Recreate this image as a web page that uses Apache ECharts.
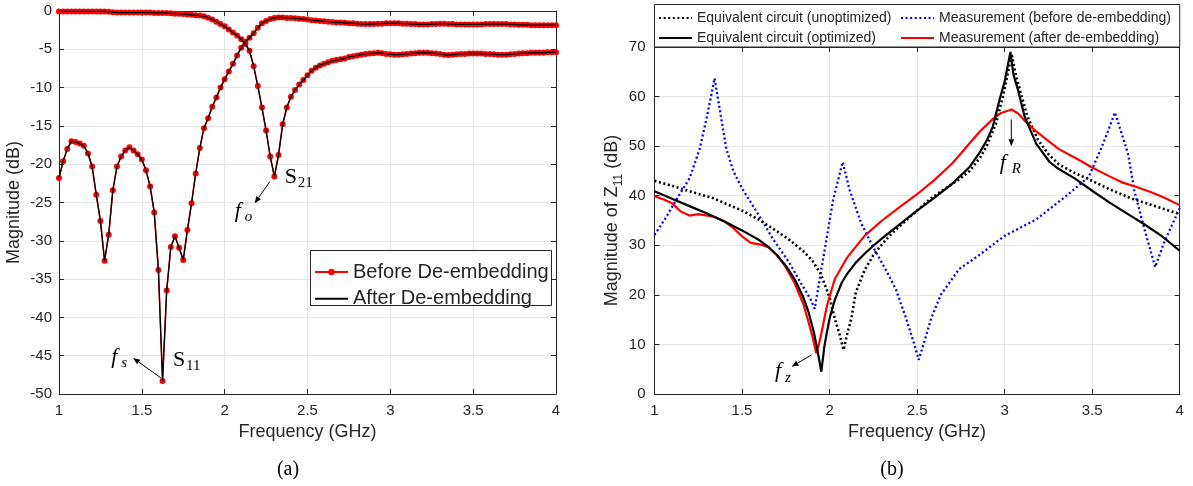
<!DOCTYPE html>
<html><head><meta charset="utf-8">
<script src="https://cdn.jsdelivr.net/npm/echarts@6/dist/echarts.min.js"></script>
<style>html,body{margin:0;padding:0;background:#fff}#c{width:1193px;height:486px}</style>
</head><body><div id="c"></div>
<script>
// ---------- (a) S-parameters: frequency grid 1.000 .. 4.000 GHz, step 0.025 GHz ----------
const freqStartA = 1.0, freqStepA = 0.025;
const s11 = [
  -21.8, -19.6, -18.0, -17.0, -17.1, -17.3, -17.6, -18.6, -20.3, -24.0,
  -27.4, -32.6, -29.2, -23.4, -20.3, -19.0, -18.2, -17.8, -18.2, -18.7,
  -19.4, -20.8, -22.9, -26.3, -33.8, -48.3, -36.5, -30.8, -29.4, -30.9,
  -32.5, -28.6, -25.1, -21.2, -17.9, -15.3, -14.0, -12.5, -11.3, -10.0,
  -8.9, -7.9, -6.9, -5.8, -4.8, -4.0, -3.5, -2.9, -2.2, -1.6,
  -1.3, -1.05, -0.9, -0.85, -0.85, -0.9, -0.9, -0.95, -1.0, -1.05,
  -1.1, -1.2, -1.25, -1.3, -1.35, -1.4, -1.45, -1.5, -1.5, -1.55,
  -1.6, -1.6, -1.65, -1.7, -1.7, -1.7, -1.7, -1.65, -1.65, -1.6,
  -1.6, -1.6, -1.6, -1.65, -1.65, -1.7, -1.7, -1.75, -1.75, -1.75,
  -1.7, -1.7, -1.65, -1.65, -1.7, -1.7, -1.75, -1.75, -1.75, -1.75,
  -1.75, -1.75, -1.75, -1.7, -1.7, -1.7, -1.7, -1.7, -1.7, -1.75,
  -1.75, -1.8, -1.8, -1.8, -1.85, -1.85, -1.85, -1.85, -1.85, -1.85,
  -1.85
];
const s21 = [
  -0.05, -0.05, -0.05, -0.05, -0.05, -0.05, -0.05, -0.05, -0.05, -0.05,
  -0.05, -0.05, -0.1, -0.15, -0.2, -0.2, -0.2, -0.2, -0.2, -0.2,
  -0.2, -0.2, -0.2, -0.25, -0.25, -0.25, -0.25, -0.3, -0.35, -0.35,
  -0.4, -0.45, -0.5, -0.55, -0.6, -0.7, -0.87, -1.1, -1.4, -1.7,
  -2.0, -2.4, -2.8, -3.2, -3.7, -4.3, -5.2, -7.2, -9.8, -12.6,
  -15.6, -19.0, -21.6, -18.8, -14.8, -12.6, -11.2, -10.3, -9.6, -9.0,
  -8.4, -7.8, -7.4, -7.1, -6.9, -6.7, -6.5, -6.4, -6.3, -6.2,
  -6.0, -5.9, -5.8, -5.7, -5.6, -5.55, -5.5, -5.45, -5.5, -5.6,
  -5.65, -5.7, -5.7, -5.65, -5.6, -5.55, -5.5, -5.45, -5.45, -5.45,
  -5.5, -5.55, -5.6, -5.7, -5.75, -5.7, -5.65, -5.6, -5.6, -5.55,
  -5.55, -5.55, -5.55, -5.6, -5.6, -5.65, -5.7, -5.7, -5.7, -5.65,
  -5.6, -5.55, -5.5, -5.5, -5.45, -5.45, -5.45, -5.45, -5.4, -5.4,
  -5.4
];

// ---------- (b) Magnitude of Z11 (dB) ----------
const ecUnoptF = [1.00,1.10,1.20,1.336,1.40,1.50,1.60,1.70,1.77,1.85,1.90,1.95,2.00,2.03,2.055,2.08,2.10,2.124,2.15,2.20,2.25,2.29,2.35,2.42,2.50,2.57,2.65,2.74,2.80,2.86,2.90,2.95,2.99,3.02,3.04,3.06,3.09,3.13,3.19,3.25,3.31,3.40,3.50,3.60,3.72,3.85,4.00];
const ecUnoptV = [43.0,42.0,40.9,39.5,38.5,37.0,35.1,32.8,31.1,28.8,27.0,24.2,19.5,15.2,12.3,8.9,12.0,15.2,20.5,25.0,28.0,29.8,32.2,34.5,37.0,39.2,41.2,43.3,45.0,47.7,50.2,54.5,60.0,65.0,68.6,65.0,61.0,56.0,51.3,48.4,46.3,44.6,43.0,41.3,39.5,38.0,36.3];

const measBeforeF = [1.00,1.06,1.13,1.20,1.257,1.30,1.343,1.37,1.41,1.45,1.50,1.60,1.68,1.77,1.834,1.89,1.915,1.963,2.02,2.075,2.115,2.18,2.245,2.33,2.38,2.438,2.48,2.509,2.545,2.58,2.635,2.74,2.85,3.00,3.18,3.35,3.48,3.545,3.584,3.63,3.67,3.706,3.74,3.80,3.86,3.91,4.00];
const measBeforeV = [32.1,35.3,39.5,43.5,49.3,56.0,63.7,58.0,49.5,45.0,41.5,35.8,31.1,26.5,22.5,19.2,17.2,27.2,39.1,46.8,41.1,34.5,29.9,24.5,21.0,15.2,10.5,6.9,11.0,15.2,20.0,25.2,27.9,31.9,35.2,39.9,43.8,49.0,52.4,56.8,52.4,48.3,41.1,33.1,25.6,30.5,37.5];

const ecOptF = [1.00,1.10,1.20,1.30,1.40,1.50,1.60,1.65,1.70,1.75,1.80,1.85,1.88,1.91,1.93,1.953,1.97,1.985,2.00,2.03,2.07,2.10,2.15,2.20,2.25,2.30,2.40,2.50,2.60,2.70,2.80,2.857,2.90,2.933,2.971,3.00,3.033,3.05,3.076,3.114,3.18,3.257,3.30,3.40,3.50,3.60,3.70,3.80,3.90,4.00];
const ecOptV = [40.9,39.4,37.9,36.4,34.8,33.0,31.0,29.7,28.0,25.9,23.2,19.5,16.5,12.5,9.0,4.5,9.5,12.5,15.2,19.0,22.5,24.2,26.5,28.3,29.9,31.4,34.2,37.0,39.6,42.4,45.8,48.7,51.3,54.0,59.4,63.0,69.0,64.5,61.4,56.0,50.5,46.8,45.6,43.5,41.0,38.6,36.4,34.2,31.8,28.9];

const measAfterF = [1.00,1.05,1.10,1.15,1.20,1.25,1.30,1.35,1.40,1.45,1.50,1.55,1.60,1.65,1.70,1.75,1.80,1.85,1.88,1.90,1.924,1.94,1.953,1.985,2.03,2.10,2.20,2.30,2.40,2.50,2.60,2.70,2.75,2.80,2.86,2.93,2.98,3.04,3.08,3.12,3.18,3.24,3.31,3.42,3.50,3.60,3.67,3.75,3.83,3.90,4.00];
const measAfterV = [39.9,39.3,38.5,36.8,36.0,36.3,36.0,35.6,34.8,33.5,31.8,30.5,30.2,29.6,28.0,25.6,22.4,18.2,14.5,11.9,8.2,10.2,12.2,17.8,23.2,27.5,31.9,35.0,37.7,40.3,43.2,46.5,48.5,50.6,53.0,55.4,56.7,57.4,56.5,54.9,53.0,51.3,49.4,47.3,45.7,43.9,42.7,41.8,40.8,39.8,38.1];

// ---------- helpers ----------
const freqA = s11.map((_, i) => +(freqStartA + i * freqStepA).toFixed(3));
const pairs = (xs, ys) => xs.map((x, i) => [x, ys[i]]);

const AX = '#262626', GRIDC = '#e4e4e4';
const SANS = '"Liberation Sans", Arial, Helvetica, sans-serif';
const SERIF = '"Liberation Serif", "Times New Roman", serif';

function xAxes(g) {
  return [
    { gridIndex: g, type: 'value', min: 1, max: 4, interval: 0.5,
      name: 'Frequency (GHz)', nameLocation: 'middle', nameGap: 29,
      nameTextStyle: { fontSize: 18, color: AX, fontFamily: SANS },
      axisLine: { show: true, onZero: false, lineStyle: { color: AX, width: 1 } },
      axisTick: { show: true, inside: true, length: 5, lineStyle: { color: AX } },
      axisLabel: { fontSize: 15, color: AX, margin: 9, fontFamily: SANS },
      splitLine: { show: true, lineStyle: { color: GRIDC, width: 1 } } },
    { gridIndex: g, type: 'value', position: 'top', min: 1, max: 4, interval: 0.5,
      axisLine: { show: true, onZero: false, lineStyle: { color: AX, width: 1 } },
      axisTick: { show: true, inside: true, length: 5, lineStyle: { color: AX } },
      axisLabel: { show: false }, splitLine: { show: false } }
  ];
}
function yAxes(g, min, max, interval, name, nameGap, margin) {
  return [
    { gridIndex: g, type: 'value', min, max, interval, name,
      nameLocation: 'middle', nameGap,
      nameTextStyle: { fontSize: 18, color: AX, fontFamily: SANS, lineHeight: 24,
        rich: { s: { fontSize: 12, color: AX, fontFamily: SANS, verticalAlign: 'bottom', lineHeight: 24 } } },
      axisLine: { show: true, onZero: false, lineStyle: { color: AX, width: 1 } },
      axisTick: { show: true, inside: true, length: 5, lineStyle: { color: AX } },
      axisLabel: { fontSize: 15, color: AX, margin, fontFamily: SANS },
      splitLine: { show: true, lineStyle: { color: GRIDC, width: 1 } } },
    { gridIndex: g, type: 'value', position: 'right', min, max, interval,
      axisLine: { show: true, onZero: false, lineStyle: { color: AX, width: 1 } },
      axisTick: { show: true, inside: true, length: 5, lineStyle: { color: AX } },
      axisLabel: { show: false }, splitLine: { show: false } }
  ];
}

const dotted = [2, 2.6];
const legendBase = { orient: 'horizontal', padding: 0, itemWidth: 33, itemHeight: 8, selectedMode: false, z: 10 };
const noMarker = { itemStyle: { opacity: 0, borderWidth: 0 } };

const option = {
  animation: false,
  backgroundColor: '#fff',
  grid: [
    { left: 59, right: 637, top: 11, bottom: 92 },
    { left: 654.5, right: 13.3, top: 47, bottom: 92 }
  ],
  xAxis: [...xAxes(0), ...xAxes(1)],
  yAxis: [
    ...yAxes(0, -50, 0, 5, 'Magnitude (dB)', 30, 7),
    ...yAxes(1, 0, 70, 10, 'Magnitude of Z{s|11} (dB)', 30, 9)
  ],
  legend: [
    { ...legendBase, left: 314, top: 262, data: ['Before De-embedding'],
      textStyle: { fontSize: 20, color: AX, fontFamily: SANS } },
    { ...legendBase, ...noMarker, left: 314, top: 288.7, data: ['After De-embedding'],
      textStyle: { fontSize: 20, color: AX, fontFamily: SANS } },
    { ...legendBase, ...noMarker, left: 658, top: 11, data: ['Equivalent circuit (unoptimized)'],
      textStyle: { fontSize: 14, color: AX, fontFamily: SANS } },
    { ...legendBase, ...noMarker, left: 900, top: 11, data: ['Measurement (before de-embedding)'],
      textStyle: { fontSize: 14, color: AX, fontFamily: SANS } },
    { ...legendBase, ...noMarker, left: 658, top: 31, data: ['Equivalent circuit (optimized)'],
      textStyle: { fontSize: 14, color: AX, fontFamily: SANS } },
    { ...legendBase, ...noMarker, left: 900, top: 31, data: ['Measurement (after de-embedding)'],
      textStyle: { fontSize: 14, color: AX, fontFamily: SANS } }
  ],
  series: [
    // (a) before de-embedding: red line with dots
    { type: 'line', name: 'Before De-embedding', xAxisIndex: 0, yAxisIndex: 0,
      data: pairs(freqA, s21), symbol: 'circle', symbolSize: 6, showSymbol: true,
      lineStyle: { color: '#ff0000', width: 1.5 }, itemStyle: { color: '#ff0000' }, z: 2 },
    { type: 'line', name: 'Before De-embedding', xAxisIndex: 0, yAxisIndex: 0,
      data: pairs(freqA, s11), symbol: 'circle', symbolSize: 6, showSymbol: true,
      lineStyle: { color: '#ff0000', width: 1.5 }, itemStyle: { color: '#ff0000' }, z: 2 },
    // (a) after de-embedding: black line
    { type: 'line', name: 'After De-embedding', xAxisIndex: 0, yAxisIndex: 0,
      data: pairs(freqA, s21), symbol: 'none',
      lineStyle: { color: '#000', width: 1.3 }, itemStyle: { color: '#000' }, z: 3 },
    { type: 'line', name: 'After De-embedding', xAxisIndex: 0, yAxisIndex: 0,
      data: pairs(freqA, s11), symbol: 'none',
      lineStyle: { color: '#000', width: 1.3 }, itemStyle: { color: '#000' }, z: 3 },
    // (b)
    { type: 'line', name: 'Measurement (before de-embedding)', xAxisIndex: 2, yAxisIndex: 2,
      data: pairs(measBeforeF, measBeforeV), symbol: 'none',
      lineStyle: { color: '#0000ff', width: 2.3, type: dotted }, itemStyle: { color: '#0000ff' } },
    { type: 'line', name: 'Equivalent circuit (unoptimized)', xAxisIndex: 2, yAxisIndex: 2,
      data: pairs(ecUnoptF, ecUnoptV), symbol: 'none',
      lineStyle: { color: '#000', width: 2.6, type: dotted }, itemStyle: { color: '#000' } },
    { type: 'line', name: 'Measurement (after de-embedding)', xAxisIndex: 2, yAxisIndex: 2,
      data: pairs(measAfterF, measAfterV), symbol: 'none',
      lineStyle: { color: '#ff0000', width: 2.2 }, itemStyle: { color: '#ff0000' } },
    { type: 'line', name: 'Equivalent circuit (optimized)', xAxisIndex: 2, yAxisIndex: 2,
      data: pairs(ecOptF, ecOptV), symbol: 'none',
      lineStyle: { color: '#000', width: 2.2 }, itemStyle: { color: '#000' } }
  ]
};

const chart = echarts.init(document.getElementById('c'), null, { renderer: 'canvas' });
chart.setOption(option);

// ---------- annotations (anchored in data coordinates) ----------
// [gridIndex, [freq, value], main text, subscript, italic]
const labelAnchors = [
  [0, [1.688, -45.6], 'S', '11', false],
  [0, [1.316, -45.2], 'f', 's', true],
  [0, [2.363, -21.7], 'S', '21', false],
  [0, [2.061, -26.1], 'f', 'o', true],
  [1, [1.688, 4.5], 'f', 'z', true],
  [1, [2.972, 46.6], 'f', 'R', true]
];
// [gridIndex, tail, head]
const arrowAnchors = [
  [0, [1.615, -47.9], [1.447, -45.3]],
  [0, [2.272, -22.3], [2.181, -25.1]],
  [1, [1.897, 7.9], [1.783, 5.5]],
  [1, [3.038, 55.4], [3.038, 50.0]]
];

const toPx = (g, p) => chart.convertToPixel({ gridIndex: g }, p);
const els = [];

// legend boxes
els.push({ type: 'rect', z: 3, shape: { x: 310.5, y: 250.5, width: 241, height: 55 },
  style: { fill: '#fff', stroke: AX, lineWidth: 1 } });
els.push({ type: 'rect', z: 3, shape: { x: 654.5, y: 4.5, width: 525.2, height: 42.5 },
  style: { fill: '#fff', stroke: AX, lineWidth: 1 } });

labelAnchors.forEach(([g, p, main, sub, italic]) => {
  const [x, y] = toPx(g, p);
  const isS = main === 'S';
  els.push({ type: 'text', z: 20, x, y, style: {
    text: main, fill: '#000', fontSize: 22, fontFamily: SERIF,
    fontStyle: italic ? 'italic' : 'normal', align: 'left', verticalAlign: 'middle' } });
  els.push({ type: 'text', z: 20, x: x + (isS ? 13 : (sub === 'R' ? 12 : 10)), y: y + 6, style: {
    text: sub, fill: '#000', fontSize: 15, fontFamily: SERIF,
    fontStyle: italic ? 'italic' : 'normal', align: 'left', verticalAlign: 'middle' } });
});

arrowAnchors.forEach(([g, t, h]) => {
  const p0 = toPx(g, t), p1 = toPx(g, h);
  const dx = p1[0] - p0[0], dy = p1[1] - p0[1], L = Math.hypot(dx, dy);
  const ux = dx / L, uy = dy / L, hl = 7, hw = 2.8;
  const bx = p1[0] - ux * hl, by = p1[1] - uy * hl;
  els.push({ type: 'line', z: 20, shape: { x1: p0[0], y1: p0[1], x2: bx, y2: by },
    style: { stroke: '#000', lineWidth: 1 } });
  els.push({ type: 'polygon', z: 20, shape: { points: [[p1[0], p1[1]], [bx - uy * hw, by + ux * hw], [bx + uy * hw, by - ux * hw]] },
    style: { fill: '#000' } });
});

// captions
els.push({ type: 'text', z: 20, x: 288, y: 470, style: { text: '(a)', fill: '#000', fontSize: 20, fontFamily: SERIF, align: 'center', verticalAlign: 'middle' } });
els.push({ type: 'text', z: 20, x: 892, y: 470, style: { text: '(b)', fill: '#000', fontSize: 20, fontFamily: SERIF, align: 'center', verticalAlign: 'middle' } });

chart.setOption({ graphic: { elements: els } });
</script>
</body></html>
